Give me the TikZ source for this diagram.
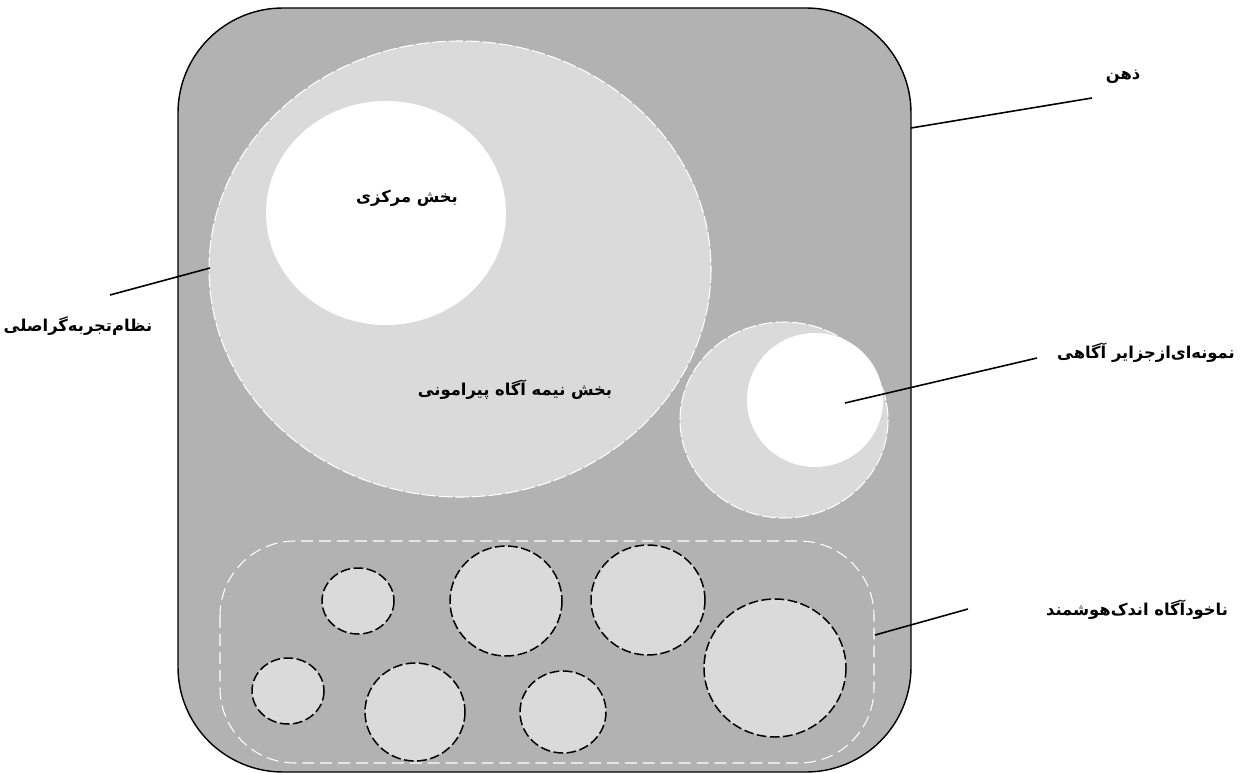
\documentclass[tikz,border=0pt]{standalone}
\usepackage{fontspec}
\newfontfamily\farsi[Script=Arabic]{DejaVu Sans}
\TeXXeTstate=1
\definecolor{mindgray}{gray}{0.70}
\definecolor{partgray}{gray}{0.855}

\begin{document}
\begin{tikzpicture}[x=0.02cm,y=-0.02cm,
    lbl/.style={font=\farsi\bfseries\fontsize{9.3}{11}\selectfont,inner sep=1pt},
    leader/.style={line width=0.9pt},
    whitedash/.style={draw=white,line width=0.6pt,dash pattern=on 8pt off 1.5pt},
    islet/.style={fill=partgray,draw=black,line width=0.85pt,dash pattern=on 5.5pt off 2pt}]
  \useasboundingbox (0,0) rectangle (1243,773);
  % mind
  \draw[fill=mindgray,line width=0.8pt,rounded corners=2.1cm] (178,8) rectangle (911,772);
  % main experiential system
  \draw[whitedash,fill=partgray] (460,269) ellipse [x radius=251, y radius=228];
  \fill[white] (386,213) ellipse [x radius=120, y radius=112];
  % island of awareness
  \draw[whitedash,fill=partgray] (784,420) ellipse [x radius=104, y radius=98];
  \fill[white] (815,400) ellipse [x radius=68, y radius=67];
  % low-intelligence unconscious
  \draw[draw=white,line width=0.6pt,dash pattern=on 6.8pt off 3.4pt,rounded corners=1.5cm] (220,541) rectangle (874,763);
  \foreach \cx/\cy/\rx/\ry in {358/601/36/33, 506/601/56/55, 648/600/57/55, 775/668/71/69,
                               288/691/36/33, 415/712/50/49, 563/712/43/41}
    \draw[islet] (\cx,\cy) ellipse [x radius=\rx, y radius=\ry];
  % labels
  \node[lbl] (central) at (407,198) {\beginR بخش مرکزی\endR};
  \node[lbl] (semi) at (515,390) {\beginR بخش نیمه آگاه پیرامونی\endR};
  \node[lbl] (mind) at (1123,77) {\beginR ذهن\endR};
  \node[lbl] (system) at (78,326) {\beginR نظام‌تجربه‌گراصلی\endR};
  \node[lbl] (island) at (1146,353) {\beginR نمونه‌ای‌ازجزایر آگاهی\endR};
  \node[lbl] (unconscious) at (1137,610) {\beginR ناخودآگاه  اندک‌هوشمند\endR};
  % leader lines
  \coordinate (mindedge) at (911,128);
  \coordinate (mindend) at (1092,98);
  \coordinate (systemedge) at (210,268);
  \coordinate (systemend) at (110,295);
  \coordinate (islandin) at (845,403);
  \coordinate (islandend) at (1037,358);
  \coordinate (uncedge) at (875,635);
  \coordinate (uncend) at (968,609);
  \draw[leader] (mindedge) -- (mindend);
  \draw[leader] (systemedge) -- (systemend);
  \draw[leader] (islandin) -- (islandend);
  \draw[leader] (uncedge) -- (uncend);
\end{tikzpicture}
\end{document}
